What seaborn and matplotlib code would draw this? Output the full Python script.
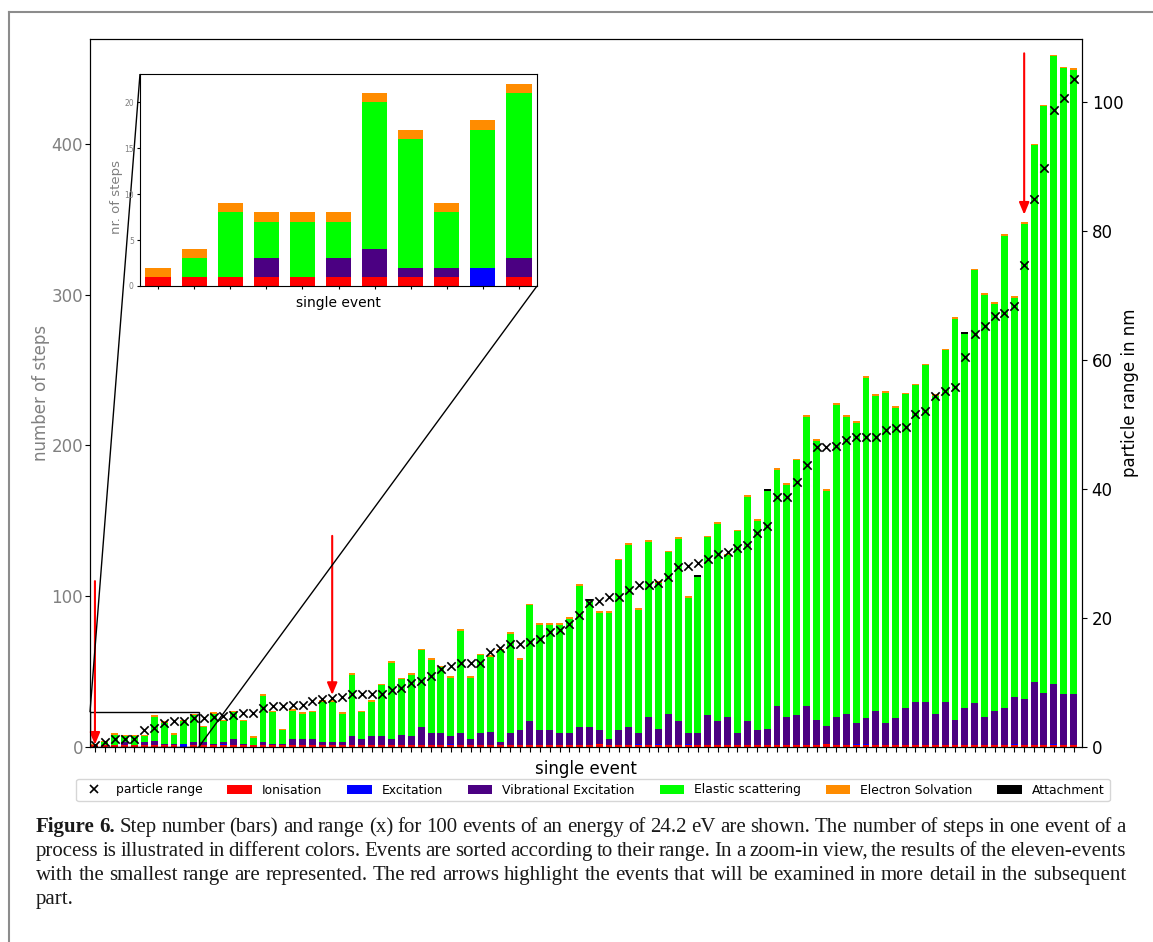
import numpy as np
import matplotlib
matplotlib.use("Agg")
import matplotlib.pyplot as plt
import seaborn as sns
from matplotlib.lines import Line2D
from matplotlib.patches import Patch
from mpl_toolkits.axes_grid1.inset_locator import mark_inset

plt.rcParams["font.family"] = ["DejaVu Sans"]

# ---------------- data (100 events sorted by range) ----------------
ionisation = [1, 1, 1, 1, 1, 1, 1, 1, 1, 0,
              1, 1, 1, 1, 1, 1, 1, 1, 1, 1,
              1, 1, 1, 1, 1, 1, 1, 1, 1, 1,
              1, 1, 1, 1, 1, 1, 1, 1, 1, 1,
              1, 1, 1, 1, 1, 1, 1, 1, 1, 1,
              1, 2, 1, 1, 1, 1, 1, 1, 1, 1,
              1, 1, 1, 1, 1, 1, 1, 1, 1, 1,
              1, 1, 1, 1, 2, 1, 1, 1, 1, 1,
              1, 1, 1, 1, 1, 1, 1, 1, 1, 1,
              1, 1, 1, 1, 1, 1, 1, 1, 1, 1]
excitation = [0, 0, 0, 0, 0, 0, 0, 0, 0, 2,
              0, 0, 0, 1, 0, 0, 0, 0, 0, 0,
              0, 0, 0, 0, 0, 0, 0, 0, 0, 0,
              0, 0, 0, 0, 0, 0, 1, 0, 0, 0,
              0, 0, 0, 0, 0, 0, 0, 0, 0, 0,
              0, 0, 0, 0, 0, 1, 0, 1, 0, 0,
              1, 0, 0, 0, 0, 0, 0, 0, 0, 0,
              0, 0, 0, 0, 0, 0, 0, 1, 1, 0,
              0, 0, 0, 0, 0, 0, 0, 0, 0, 0,
              0, 0, 0, 1, 0, 0, 0, 1, 0, 0]
vibrational = [0, 0, 0, 2, 0, 2, 3, 1, 1, 0,
               2, 2, 1, 1, 4, 1, 0, 2, 1, 1,
               4, 4, 4, 2, 2, 2, 6, 4, 6, 6,
               4, 7, 6, 12, 8, 8, 5, 8, 4, 8,
               9, 2, 8, 10, 16, 10, 10, 8, 8, 12,
               12, 9, 4, 10, 12, 7, 19, 10, 21, 16,
               7, 8, 20, 16, 19, 8, 16, 10, 11, 26,
               19, 20, 26, 17, 12, 19, 21, 14, 17, 23,
               15, 18, 25, 29, 29, 21, 29, 17, 25, 28,
               19, 23, 25, 31, 31, 42, 35, 40, 34, 34]
elastic = [0, 2, 7, 4, 6, 4, 16, 14, 6, 15,
           18, 10, 20, 14, 18, 15, 5, 31, 21, 9,
           19, 17, 18, 27, 27, 19, 41, 18, 23, 34,
           51, 37, 41, 51, 49, 44, 39, 68, 41, 52,
           50, 61, 66, 47, 77, 70, 70, 72, 76, 94,
           84, 78, 84, 113, 121, 82, 116, 97, 107, 121,
           90, 104, 118, 131, 107, 134, 149, 139, 158, 157,
           154, 169, 192, 185, 156, 207, 197, 199, 226, 209,
           219, 206, 208, 210, 223, 211, 233, 266, 248, 287,
           280, 270, 313, 265, 315, 356, 389, 416, 415, 414]
solvation = [1, 1, 1, 1, 1, 1, 1, 1, 1, 1,
             1, 1, 1, 1, 1, 1, 1, 1, 1, 1,
             1, 1, 1, 1, 1, 1, 1, 1, 1, 1,
             1, 1, 1, 1, 1, 1, 1, 1, 1, 1,
             1, 1, 1, 1, 1, 1, 1, 1, 1, 1,
             0, 1, 1, 1, 1, 1, 1, 1, 1, 1,
             1, 0, 1, 1, 1, 1, 1, 1, 0, 1,
             1, 1, 1, 1, 1, 1, 1, 1, 1, 1,
             1, 1, 1, 1, 1, 1, 1, 1, 0, 1,
             1, 1, 1, 1, 1, 1, 1, 1, 1, 1]
attachment = [0, 0, 0, 0, 0, 0, 0, 0, 0, 0,
              0, 0, 0, 0, 0, 0, 0, 0, 0, 0,
              0, 0, 0, 0, 0, 0, 0, 0, 0, 0,
              0, 0, 0, 0, 0, 0, 0, 0, 0, 0,
              0, 0, 0, 0, 0, 0, 0, 0, 0, 0,
              1, 0, 0, 0, 0, 0, 0, 0, 0, 0,
              0, 1, 0, 0, 0, 0, 0, 0, 1, 0,
              0, 0, 0, 0, 0, 0, 0, 0, 0, 0,
              0, 0, 0, 0, 0, 0, 0, 0, 1, 0,
              0, 0, 0, 0, 0, 0, 0, 0, 0, 0]
particle_range = [0.3, 0.8, 1.2, 1.2, 1.2, 2.7, 3.0, 3.7, 4.1, 4.1,
                  4.5, 4.5, 4.7, 4.8, 5.0, 5.3, 5.3, 6.1, 6.4, 6.4,
                  6.5, 6.5, 7.2, 7.5, 7.6, 7.7, 8.2, 8.2, 8.2, 8.2,
                  8.8, 9.2, 10.0, 10.2, 11.0, 12.1, 12.5, 13.0, 13.0, 13.1,
                  14.8, 15.3, 15.9, 15.9, 16.3, 16.7, 17.8, 18.2, 19.1, 20.5,
                  22.4, 22.7, 23.2, 23.3, 24.3, 25.1, 25.2, 25.4, 26.3, 27.9,
                  28.0, 28.5, 29.1, 30.0, 30.2, 30.8, 31.4, 33.2, 34.3, 38.8,
                  38.8, 41.1, 43.8, 46.5, 46.5, 46.7, 47.6, 48.1, 48.1, 48.1,
                  49.1, 49.5, 49.7, 51.7, 52.1, 54.5, 55.2, 55.8, 60.5, 64.1,
                  65.3, 66.9, 67.3, 68.4, 74.8, 85.0, 89.8, 98.8, 100.6, 103.6]

process_names = ["Ionisation", "Excitation", "Vibrational Excitation",
                 "Elastic scattering", "Electron Solvation", "Attachment"]
process_colors = ["#ff0000", "#0000ff", "#4b0082", "#00ff00", "#ff8c00", "#000000"]
process_values = [ionisation, excitation, vibrational, elastic, solvation, attachment]

# highlighted events (0-based index) and arrow extent in steps
arrow_events = [0, 24, 94]
arrow_tails = [110, 140, 460]
arrow_tips = [1.5, 34.5, 353]

n_events = len(particle_range)
n_zoom = 11

W, H = 1153, 942
fig = plt.figure(figsize=(W / 100, H / 100), dpi=100)


def fx(px):
    return px / W


def fy(py):
    return 1 - py / H


def draw_stack(ax, n):
    bottom = np.zeros(n)
    for vals, col in zip(process_values, process_colors):
        v = np.asarray(vals[:n], dtype=float)
        sns.barplot(x=np.arange(n), y=v, bottom=bottom.copy(), color=col,
                    saturation=1, width=0.7, errorbar=None, linewidth=0, ax=ax)
        bottom += v


# ---------------- main axes ----------------
ax_w = 1082 - 90
ax = fig.add_axes([fx(90), fy(747), fx(ax_w), (747 - 39) / H])
draw_stack(ax, n_events)
ax.set_ylim(0, 469.5)
ax.set_xticks(np.arange(n_events))
ax.set_xticklabels([""] * n_events)
ax.set_yticks([0, 100, 200, 300, 400])
ax.tick_params(axis="y", labelcolor="gray", labelsize=12, pad=1.5)
ax.tick_params(axis="x", length=3.5)
ax.set_xlabel("single event", fontsize=12, labelpad=2)
ax.set_ylabel("number of steps", fontsize=12, color="gray")
ax.yaxis.set_label_coords((50 - 90) / ax_w, 0.5)

for i, t0, t1 in zip(arrow_events, arrow_tails, arrow_tips):
    ax.annotate("", xy=(i, t1), xytext=(i, t0),
                arrowprops=dict(arrowstyle="-|>,head_length=0.6,head_width=0.25",
                                color="red", lw=1.5, mutation_scale=12,
                                shrinkA=0, shrinkB=0), zorder=4)

# ---------------- twin axis: particle range ----------------
ax2 = ax.twinx()
sns.scatterplot(x=np.arange(n_events), y=particle_range, ax=ax2, marker="x",
                color="black", s=36, linewidth=1.2, legend=False, zorder=3)
ax2.set_ylim(0, 109.8)
ax2.set_yticks([0, 20, 40, 60, 80, 100])
ax2.tick_params(axis="y", labelsize=12)
ax2.set_ylabel("particle range in nm", fontsize=12)
ax2.yaxis.set_label_coords((1121 - 90) / ax_w, 0.5)
ax.set_xlim(-0.5, 99.85)

# ---------------- inset ----------------
axins = fig.add_axes([fx(140), fy(286), fx(537 - 140), (286 - 74) / H])
axins.set_zorder(5)
draw_stack(axins, n_zoom)
axins.set_xlim(-0.5, 10.5)
axins.set_ylim(0, 23.05)
axins.set_xticks(np.arange(n_zoom))
axins.set_xticklabels([""] * n_zoom)
axins.set_yticks([0, 5, 10, 15, 20])
axins.tick_params(axis="y", labelcolor="gray", labelsize=5.5, length=2.5, pad=2)
axins.tick_params(axis="x", length=2.5)
axins.set_xlabel("single event", fontsize=10, labelpad=1)
axins.set_ylabel("nr. of steps", fontsize=9.5, color="gray")
axins.yaxis.set_label_coords(-0.043, 0.42)
mark_inset(ax, axins, loc1=2, loc2=4, fc="none", ec="black", lw=1)

# ---------------- legend ----------------
handles = [Line2D([], [], marker="x", ls="none", color="black", markersize=6,
                  markeredgewidth=1.2, label="particle range")]
handles += [Patch(facecolor=c, label=nm) for nm, c in zip(process_names, process_colors)]
fig.legend(handles=handles, loc="center", bbox_to_anchor=(fx(593), fy(790)),
           ncol=7, fontsize=8.9, frameon=True, columnspacing=2.0,
           handletextpad=0.8)

# ---------------- border lines ----------------
fig.add_artist(Line2D([fx(9), 1], [fy(12), fy(12)], color="#8c8c8c", lw=1.5,
                      transform=fig.transFigure))
fig.add_artist(Line2D([fx(9), fx(9)], [0, fy(12)], color="#8c8c8c", lw=1.5,
                      transform=fig.transFigure))

# ---------------- caption (justified) ----------------
cap_font = "Liberation Serif"
cap_lines = [
    "Figure 6. Step number (bars) and range (x) for 100 events of an energy of 24.2  eV are shown. The number of steps in one event of a",
    "process is illustrated in different colors. Events are sorted according to their range. In a zoom-in view, the results of the eleven-events",
    "with the smallest range are represented. The red arrows highlight the events that will be examined in more detail in the subsequent",
    "part.",
]
cap_baselines = [832, 856, 880, 904]
x_left, x_right = 36, 1126

fig.canvas.draw()
renderer = fig.canvas.get_renderer()


def word_w(word, weight, fs):
    t = fig.text(0, 0, word, fontsize=fs, family=cap_font, weight=weight)
    w = t.get_window_extent(renderer).width
    t.remove()
    return w


def line_words(li, line):
    words = line.split()
    return [(wd, "bold" if (li == 0 and k < 2) else "normal") for k, wd in enumerate(words)]


fs0 = 13.0
min_space = 0.2
ratios = []
for li, line in enumerate(cap_lines[:3]):
    ws = line_words(li, line)
    tot = sum(word_w(w, wt, fs0) for w, wt in ws) + (len(ws) - 1) * min_space * fs0 * 100 / 72
    ratios.append(tot / (x_right - x_left))
fs = fs0 / max(ratios) * 0.998

for li, line in enumerate(cap_lines):
    ws = line_words(li, line)
    widths = [word_w(w, wt, fs) for w, wt in ws]
    if li < 3 and len(ws) > 1:
        gap = ((x_right - x_left) - sum(widths)) / (len(ws) - 1)
    else:
        gap = 0.25 * fs * 100 / 72
    x = x_left
    for (w, wt), wd in zip(ws, widths):
        fig.text(fx(x), fy(cap_baselines[li]), w, fontsize=fs, family=cap_font,
                 weight=wt, va="baseline", ha="left", color="#1a1a1a")
        x += wd + gap

fig.savefig("out.png", dpi=100)
